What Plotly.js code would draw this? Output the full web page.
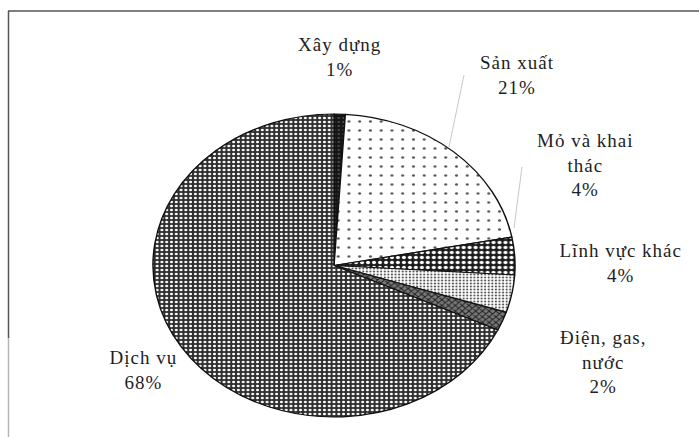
<!DOCTYPE html>
<html>
<head>
<meta charset="utf-8">
<script src="https://cdn.plot.ly/plotly-3.0.1.min.js"></script>
<style>
  html, body { margin: 0; padding: 0; background: #fff; }
  #chart { width: 699px; height: 437px; }
  #chart .pielayer { transform-origin: 334px 265.5px; transform: scaleX(1.195); }
  #chart .annotation-text { letter-spacing: 1px; }
</style>
</head>
<body>
<div id="chart"></div>
<script>
// Data
const labels = ["Xây dựng", "Sản xuất", "Mỏ và khai thác", "Lĩnh vực khác", "Điện, gas, nước", "Dịch vụ"];
const values = [1, 21, 4, 4, 2, 68];
const labelText = ["Xây dựng<br>1%", "Sản xuất<br>21%", "Mỏ và khai<br>thác<br>4%", "Lĩnh vực khác<br>4%", "Điện, gas,<br>nước<br>2%", "Dịch vụ<br>68%"];

// Styling
const bgColors = ["#151515", "#ffffff", "#1c1c1c", "#ffffff", "#7a7a7a", "#2e2e2e"];
const fgColors = ["#555555", "#555555", "#ffffff", "#555555", "#222222", "#ffffff"];
const shapes = [".", ".", ".", ".", "x", "."];
const sizes = [4, 9, 5, 3, 4, 4];
const solid = [0.2, 0.06, 0.35, 0.3, 0.4, 0.32];
const labelPos = [[340, 57], [517, 75], [585, 165], [620, 263], [603, 362], [143, 370]];

const W = 699, H = 437;
const px = x => x / W, py = y => 1 - y / H;

const trace = {
  type: "pie",
  labels: labels,
  values: values,
  sort: false,
  direction: "clockwise",
  rotation: 0,
  textinfo: "none",
  hoverinfo: "label+percent",
  showlegend: false,
  domain: { x: [px(182.5), px(485.5)], y: [py(417), py(114)] },
  marker: {
    colors: bgColors,
    line: { color: "#111111", width: 1.2 },
    pattern: {
      shape: shapes,
      bgcolor: bgColors,
      fgcolor: fgColors,
      size: sizes,
      solidity: solid,
      fillmode: "replace"
    }
  }
};

const annotations = labelText.map((t, i) => ({
  xref: "paper", yref: "paper",
  x: px(labelPos[i][0]), y: py(labelPos[i][1]),
  xanchor: "center", yanchor: "middle",
  text: t, showarrow: false, align: "center",
  font: { family: "Liberation Serif", size: 19, color: "#1e1e1e" }
}));

const layout = {
  width: W, height: H,
  margin: { l: 0, r: 0, t: 0, b: 0 },
  paper_bgcolor: "#ffffff",
  plot_bgcolor: "#ffffff",
  annotations: annotations,
  shapes: [
    { type: "line", xref: "paper", yref: "paper", x0: px(8), x1: 1, y0: py(11), y1: py(11), line: { color: "#555555", width: 1.5 } },
    { type: "line", xref: "paper", yref: "paper", x0: px(8.5), x1: px(8.5), y0: py(11), y1: py(338), line: { color: "#555555", width: 1.5 } },
    { type: "line", xref: "paper", yref: "paper", x0: px(8.5), x1: px(8.5), y0: py(338), y1: 0, line: { color: "#b5b5b5", width: 1.5 } },
    { type: "line", xref: "paper", yref: "paper", x0: px(449), x1: px(464), y0: py(147), y1: py(75), line: { color: "#c8c8c8", width: 1 } },
    { type: "line", xref: "paper", yref: "paper", x0: px(514), x1: px(522), y0: py(228), y1: py(167), line: { color: "#c8c8c8", width: 1 } }
  ]
};

Plotly.newPlot("chart", [trace], layout, { displayModeBar: false, staticPlot: true });
</script>
</body>
</html>
